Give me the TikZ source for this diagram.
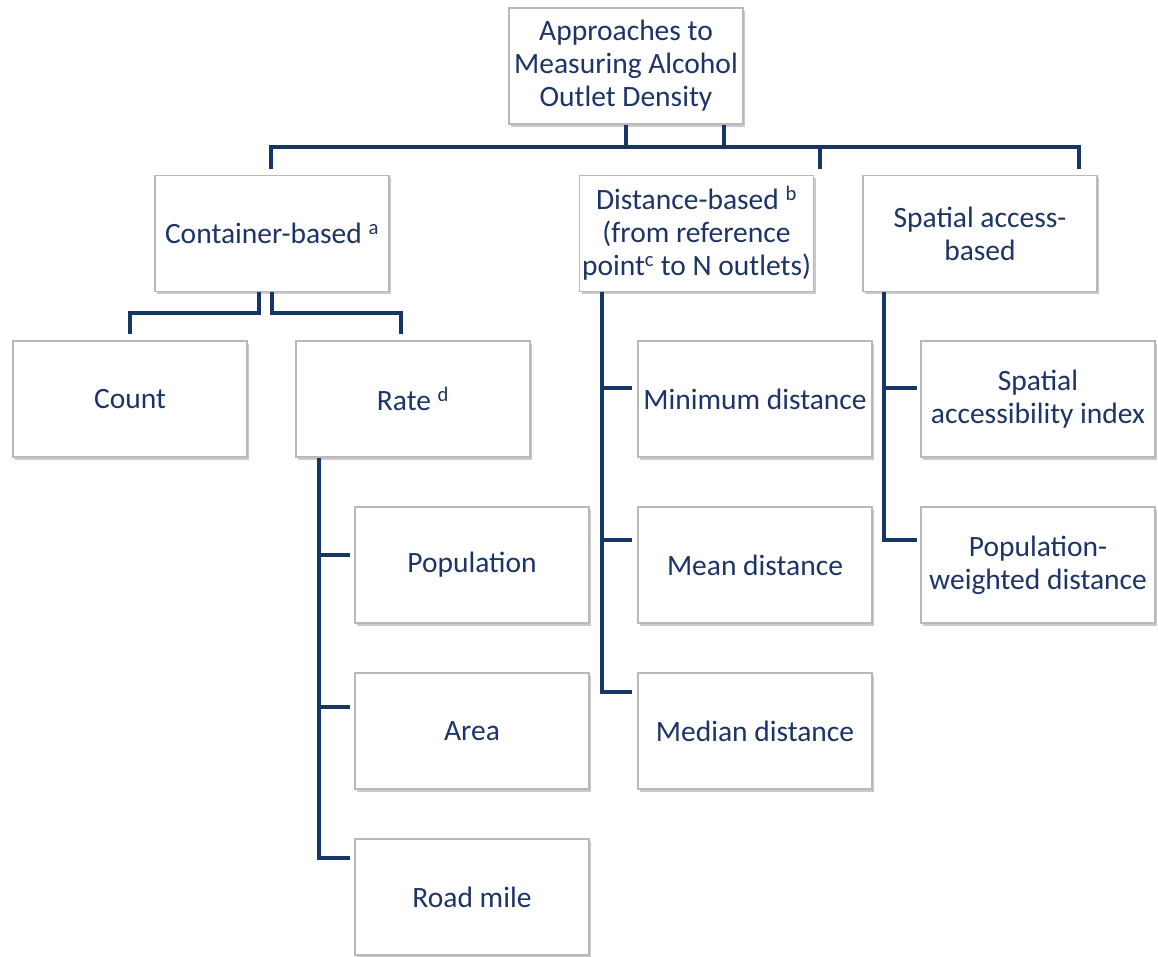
\documentclass[tikz,border=0pt]{standalone}
\usepackage{fontspec}
\setmainfont{Carlito}
\usetikzlibrary{calc,shadows}
\definecolor{navytext}{RGB}{28,52,104}
\definecolor{navyline}{RGB}{22,54,104}
\definecolor{boxgray}{RGB}{185,185,185}
\tikzset{
  box/.style={draw=boxgray, line width=1.3pt, fill=white, minimum width=234pt, minimum height=116pt,
    inner sep=0pt, align=center, text=navytext, font=\fontsize{29.5}{33}\selectfont,
    drop shadow={shadow xshift=2pt, shadow yshift=-3pt, opacity=0.35, fill=black!60}},
  conn/.style={draw=navyline, line width=4pt, line join=miter}
}
\begin{document}
\begin{tikzpicture}[x=1pt,y=1pt]
\useasboundingbox (0,0) rectangle (1158,-957);
% nodes
\node[box] (top)  at (626,-66)    {Approaches to\\Measuring Alcohol\\Outlet Density};
\node[box] (cont) at (272,-233.5) {Container-based \textsuperscript{a}};
\node[box] (dist) at (696.5,-233.5) {Distance-based \textsuperscript{b}\\(from reference\\point\textsuperscript{c} to N outlets)};
\node[box] (sp)   at (980,-233.5) {Spatial access-\\based};
\node[box] (count) at (130,-399) {Count};
\node[box] (rate)  at (413,-399) {Rate \textsuperscript{d}};
\node[box] (pop)   at (472,-565) {Population};
\node[box] (area)  at (472,-731) {Area};
\node[box] (road)  at (472,-897) {Road mile};
\node[box] (mind)  at (755,-399) {Minimum distance};
\node[box] (meand) at (755,-565) {Mean distance};
\node[box] (medd)  at (755,-731) {Median distance};
\node[box] (sai)   at (1038,-399) {Spatial\\accessibility index};
\node[box] (pwd)   at (1038,-565) {Population-\\weighted distance};
% top level connectors
\coordinate (bl) at ($(cont.north)+(-1,28)$);
\coordinate (br) at ($(sp.north east)+(-19,28)$);
\draw[conn] ($(cont.north)+(-1,6)$) -- (bl) -- (br) -- ($(br)+(0,-22)$);
\draw[conn] ($(dist.north east)+(6,6)$) -- ($(dist.north east)+(6,28)$);
\draw[conn] (top.south) -- (top.south |- bl);
\draw[conn] ([xshift=98pt]top.south) -- ([xshift=98pt]top.south |- bl);
% container children
\coordinate (cy) at ($(cont.south)+(0,-21)$);
\coordinate (rtop) at ($(rate.north)+(-12,6)$);
\draw[conn] ([xshift=-13pt]cont.south) -- ([xshift=-13pt]cy) -- (count.north |- cy) -- ($(count.north)+(0,6)$);
\draw[conn] (cont.south) -- (cy) -- (rtop |- cy) -- (rtop);
% rate children
\coordinate (rv) at ($(rate.south west)+(24,0)$);
\coordinate (rb1) at ($(pop.north west)+(-4,-49)$);
\coordinate (rb2) at ($(area.north west)+(-4,-35)$);
\draw[conn] (rv) |- ($(road.north west)+(-4,-20)$);
\draw[conn] (rv |- rb1) -- (rb1);
\draw[conn] (rv |- rb2) -- (rb2);
% distance children
\coordinate (dv) at ($(dist.south west)+(23,0)$);
\coordinate (db1) at ($(mind.north west)+(-5,-48)$);
\coordinate (db2) at ($(meand.north west)+(-5,-34)$);
\draw[conn] (dv) |- ($(medd.north west)+(-5,-20)$);
\draw[conn] (dv |- db1) -- (db1);
\draw[conn] (dv |- db2) -- (db2);
% spatial children
\coordinate (sv) at ($(sp.south west)+(22,0)$);
\coordinate (sb1) at ($(sai.north west)+(-3,-48)$);
\draw[conn] (sv) |- ($(pwd.north west)+(-3,-34)$);
\draw[conn] (sv |- sb1) -- (sb1);
\end{tikzpicture}
\end{document}
